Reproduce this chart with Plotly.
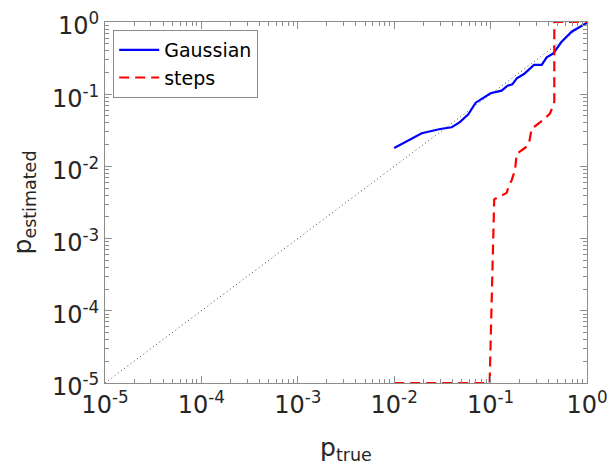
import plotly.graph_objects as go

gauss_x = [0.01, 0.0193, 0.030, 0.0395, 0.048, 0.0587, 0.070, 0.0875, 0.10, 0.130, 0.150,
           0.168, 0.187, 0.222, 0.282, 0.339, 0.382, 0.447, 0.546, 0.693, 1.0]
gauss_y = [0.018, 0.0288, 0.033, 0.0348, 0.041, 0.0527, 0.0763, 0.0906, 0.103, 0.112, 0.131,
           0.137, 0.166, 0.19, 0.254, 0.254, 0.324, 0.368, 0.534, 0.734, 0.978]

steps_x = [0.01, 0.0977, 0.109, 0.147, 0.153, 0.166, 0.179, 0.187, 0.237, 0.252, 0.267,
           0.289, 0.352, 0.413, 0.447, 0.458, 0.458, 1.0]
steps_y = [1e-5, 1e-5, 0.0035, 0.0043, 0.0052, 0.0065, 0.0089, 0.015, 0.0188, 0.022, 0.0337,
           0.036, 0.044, 0.054, 0.071, 0.08, 1.0, 1.0]

diag_vals = [1e-5, 1.0]

major_vals = [1e-5, 1e-4, 1e-3, 1e-2, 1e-1, 1e0]
major_text = ["10<sup>-5</sup>", "10<sup>-4</sup>", "10<sup>-3</sup>",
              "10<sup>-2</sup>", "10<sup>-1</sup>", "10<sup>0</sup>"]
minor_vals = [m * d for d in [1e-5, 1e-4, 1e-3, 1e-2, 1e-1] for m in range(2, 10)]

FONT = "DejaVu Sans"
AXC = "#8c8c8c"
TXT = "#262626"

fig = go.Figure()
fig.add_trace(go.Scatter(x=diag_vals, y=diag_vals, mode="lines", showlegend=False,
                         line=dict(color="#444444", width=1, dash="1px,3px"), hoverinfo="skip"))
fig.add_trace(go.Scatter(x=gauss_x, y=gauss_y, mode="lines", name="Gaussian",
                         line=dict(color="#0000ff", width=2.2)))
fig.add_trace(go.Scatter(x=steps_x, y=steps_y, mode="lines", name="steps",
                         line=dict(color="#ff0000", width=2.2, dash="10px,6px")))

axis_common = dict(
    type="log", range=[-5, 0], showgrid=False, zeroline=False, automargin=False,
    showline=True, linecolor=AXC, linewidth=1, mirror="ticks",
    ticks="inside", ticklen=7, tickcolor=AXC, tickwidth=1,
    tickvals=major_vals, ticktext=major_text, ticklabeloverflow="allow",
    tickfont=dict(family=FONT, size=24, color=TXT),
    minor=dict(tickvals=minor_vals, ticks="inside", ticklen=4, tickcolor=AXC, showgrid=False),
)

fig.update_xaxes(**axis_common,
                 title=dict(text="p<sub>true</sub>", font=dict(family=FONT, size=25, color=TXT), standoff=20))
fig.update_yaxes(**axis_common, ticklabelshift=4,
                 title=dict(text="p<sub>estimated</sub>", font=dict(family=FONT, size=25, color=TXT), standoff=21))

fig.update_layout(
    width=607, height=458,
    margin=dict(l=97, r=28, t=14, b=83),
    paper_bgcolor="white", plot_bgcolor="white",
    font=dict(family=FONT, color=TXT),
    legend=dict(x=0.017, y=0.978, xanchor="left", yanchor="top",
                bgcolor="white", bordercolor=AXC, borderwidth=1,
                font=dict(family=FONT, size=19, color="#000000"),
                tracegroupgap=0, itemwidth=40),
    showlegend=True,
)

fig.write_html("out.html")
